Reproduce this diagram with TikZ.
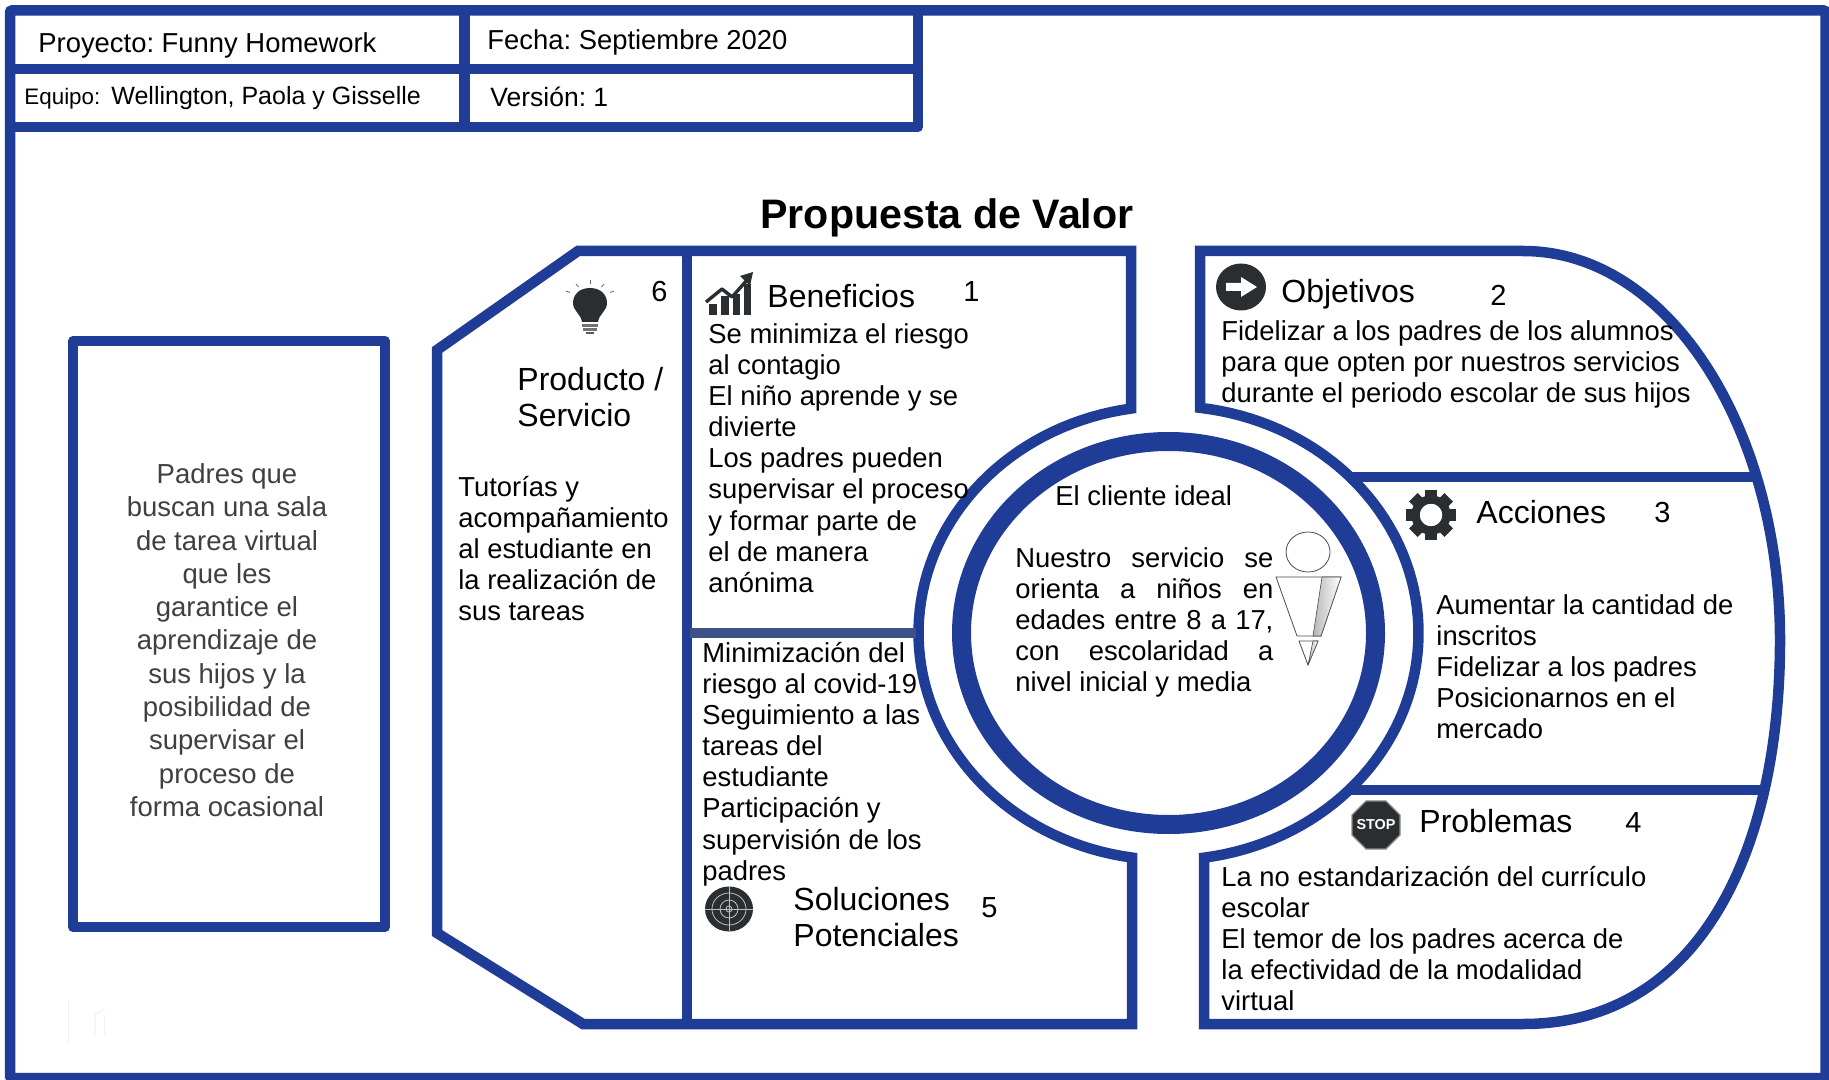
\documentclass[tikz,border=0pt]{standalone}
\usepackage{fontspec}
\setmainfont{Liberation Sans}
\usetikzlibrary{shapes.geometric}
\definecolor{bandblue}{HTML}{1F3D97}
\definecolor{dividerblue}{HTML}{3F5189}
\definecolor{icondark}{HTML}{2B2E31}
\definecolor{softgray}{HTML}{404040}
\newcommand\firststrut{\rule{0pt}{11pt}}
\frenchspacing
\tikzset{
  band/.style={draw=bandblue,line width=5.25pt,line join=miter},
  body/.style={inner sep=0pt,anchor=north west,align=left,text=black,font=\fontsize{13.7}{15.55}\selectfont},
  label/.style={inner sep=0pt,anchor=base west,text=black,font=\fontsize{13.7}{15.55}\selectfont},
  heading/.style={inner sep=0pt,anchor=base west,align=left,text=black,font=\fontsize{16}{18}\selectfont},
  numeral/.style={inner sep=0pt,anchor=base west,text=black,font=\fontsize{14.5}{16}\selectfont},
  person/.style={draw=black!70,line width=0.4pt,fill=white},
  ghost/.style={draw=black!6,line width=0.5pt}
}
\begin{document}
\begin{tikzpicture}[x=0.5pt,y=-0.5pt]
\useasboundingbox (0,0) rectangle (1829,1080);
\fill[white] (0,0) rectangle (1829,1080);
\clip (0,0) rectangle (1829,1080);
% outer frame and header grid
\draw[band,rounded corners=1pt] (10,10.5) rectangle (1825.5,1078);
\draw[band,line join=round] (10,127) -- (918,127) -- (918,10);
\draw[band] (10,69) -- (918,69);
\draw[band] (464.5,10) -- (464.5,127);
% left box
\draw[band,line join=round] (73,341) rectangle (385,927);
% left group: product + benefits + solutions
\draw[band] plot[variable=\t,domain=98.4:261.4,samples=70] ({1168.5+250*cos(\t)},{633+227*sin(\t)})
  -- (1131.1,251) -- (578,251) -- (437,350) -- (437,933) -- (583,1024) -- (1132,1024) -- cycle;
\draw[band] (687,251) -- (687,1024);
\draw[draw=dividerblue,line width=5pt] (690,633) -- (916,633);
% right group: objectives + actions + problems
\draw[band] plot[variable=\t,domain=81.84:-82.76,samples=70] ({1168.5+250*cos(\t)},{633+227*sin(\t)})
  -- (1200,251) -- (1523,251)
  .. controls (1670,251) and (1780,430) .. (1780,640)
  .. controls (1780,850) and (1700,1024) .. (1523,1024)
  -- (1204,1024) -- cycle;
\draw[band] (1351,477) -- (1755,477);
\draw[band] (1349,790) -- (1765,790);
% inner ring
\draw[draw=bandblue,line width=9.5pt] (1168.5,633) ellipse [x radius=207,y radius=191.5];
% bulb icon
\fill[icondark] (590,288) .. controls (578,288) and (573,296) .. (573,303) .. controls (573,311) and (581,314) .. (582,322)
  -- (598,322) .. controls (599,314) and (607,311) .. (607,303) .. controls (607,296) and (602,288) .. (590,288) -- cycle;
\fill[black!55] (582,324) rectangle (598,327);
\fill[black!55] (583,328) rectangle (597,331);
\fill[black!65] (586,332) rectangle (594,334);
\foreach \ax/\ay/\bx/\by in {590/280/590/284, 576/284/578.5/287, 604/284/601.5/287, 566/291/570/292.5, 614/291/610/292.5}
  \draw[black!60,line width=0.4pt] (\ax,\ay) -- (\bx,\by);
% chart icon
\foreach \xa/\xb/\yt in {709/717/304, 721/729/296, 733/740/294, 744/751/284}
  \fill[icondark] (\xa,\yt) rectangle (\xb,315);
\draw[icondark,line width=1.7pt,line join=round] (706,302) -- (722,289) -- (732,297) -- (748,279);
\fill[icondark] (740,276) -- (753,272) -- (750,286) -- cycle;
% target icon
\fill[icondark] (729,909) ellipse [x radius=24,y radius=22.5];
\draw[black!25,line width=0.4pt] (729,909) ellipse [x radius=17,y radius=16];
\draw[black!25,line width=0.4pt] (729,909) ellipse [x radius=9,y radius=9];
\draw[black!25,line width=0.4pt] (729,909) ellipse [x radius=3,y radius=3];
\draw[black!25,line width=0.4pt] (705,909) -- (753,909);
\draw[black!25,line width=0.4pt] (729,887) -- (729,931);
% arrow icon
\fill[icondark] (1241,287) ellipse [x radius=25,y radius=23.5];
\fill[white] (1226,283) -- (1241,283) -- (1241,277) -- (1257,287) -- (1241,297) -- (1241,291) -- (1226,291) -- cycle;
% gear icon
\foreach \a in {0,45,...,315}
  \fill[icondark,shift={(1431,515)},rotate=\a] (-6,-25) rectangle (6,-16);
\draw[icondark,line width=4.2pt] (1431,515) circle [radius=15.5];
% stop icon
\node[regular polygon,regular polygon sides=8,minimum size=26pt,inner sep=0pt,fill=icondark,draw=black!45,line width=0.6pt] (stopsign) at (1376,825) {};
\node[inner sep=0pt,text=white,font=\fontsize{7.2}{8}\selectfont\bfseries] (stoptext) at (stopsign.center) {STOP};
% person figure
\draw[person] (1308,552) ellipse [x radius=22,y radius=20];
\draw[person] (1276,577) -- (1341,577) -- (1321,636) -- (1297,636) -- cycle;
\shade[left color=black!28,right color=white,draw=black!70,line width=0.3pt] (1322,577) -- (1341,577) -- (1321,636) -- (1313,636) -- cycle;
\draw[person] (1299,641) -- (1318,641) -- (1308,665) -- cycle;
\shade[left color=black!28,right color=white,draw=black!70,line width=0.3pt] (1313,641) -- (1318,641) -- (1308,665) -- cycle;
% faint marks
\draw[ghost] (68,1000) -- (68,1043);
\draw[ghost] (95,1035) -- (95,1015) -- (100,1012) -- (103,1008);
\draw[ghost] (104,1035) -- (104,1015);
% header texts
\node[label] (proyecto) at (38,53) {Proyecto: Funny Homework};
\node[label] (fecha) at (487,50) {Fecha: Septiembre 2020};
\node[label,font=\fontsize{11.2}{13}\selectfont] (equipo) at (24,104.5) {Equipo:};
\node[label,font=\fontsize{12.5}{15}\selectfont] (nombres) at (111,104.5) {Wellington, Paola y Gisselle};
\node[label,font=\fontsize{13.25}{15}\selectfont] (version) at (490,107) {Versión: 1};
% title
\node[inner sep=0pt,anchor=base west,font=\fontsize{20.6}{25}\selectfont\bfseries] (titulo) at (760,228.5) {Propuesta de Valor};
% left box text
\node[inner sep=0pt,anchor=north,align=center,text=softgray,font=\fontsize{13.75}{16.65}\selectfont] (clientes) at (227,461) {\firststrut Padres que\\buscan una sala\\de tarea virtual\\que les\\garantice el\\aprendizaje de\\sus hijos y la\\posibilidad de\\supervisar el\\proceso de\\forma ocasional};
% product
\node[numeral] (n6) at (651,302) {6};
\node[heading,anchor=north west] (producto) at (517,367) {\firststrut Producto /\\Servicio};
\node[body] (productotxt) at (458,474) {\firststrut Tutorías y\\acompañamiento\\al estudiante en\\la realización de\\sus tareas};
% benefits
\node[heading] (beneficios) at (767,307) {Beneficios};
\node[numeral] (n1) at (963,302) {1};
\node[body] (beneficiostxt) at (708,321) {\firststrut Se minimiza el riesgo\\al contagio\\El niño aprende y se\\divierte\\Los padres pueden\\supervisar el proceso\\y formar parte de\\el de manera\\anónima};
% solutions
\node[body] (solucionestxt) at (702,640) {\firststrut Minimización del\\riesgo al covid-19\\Seguimiento a las\\tareas del\\estudiante\\Participación y\\supervisión de los\\padres};
\node[heading,anchor=north west] (soluciones) at (793,887) {\firststrut Soluciones\\Potenciales};
\node[numeral] (n5) at (981,917) {5};
% client
\node[label] (cliente) at (1055,505) {El cliente ideal};
\node[body] (clientetxt) at (1015,545) {\firststrut\hbox to 129pt{Nuestro\hfil servicio\hfil se}\\\hbox to 129pt{orienta\hfil a\hfil niños\hfil en}\\\hbox to 129pt{edades\hfil entre\hfil 8\hfil a\hfil 17,}\\\hbox to 129pt{con\hfil escolaridad\hfil a}\\nivel inicial y media};
% objectives
\node[heading] (objetivos) at (1281,303) {Objetivos};
\node[numeral] (n2) at (1490,306) {2};
\node[body] (objetivostxt) at (1221,318) {\firststrut Fidelizar a los padres de los alumnos\\para que opten por nuestros servicios\\durante el periodo escolar de sus hijos};
% actions
\node[heading] (acciones) at (1476,523) {Acciones};
\node[numeral] (n3) at (1654,522) {3};
\node[body] (accionestxt) at (1436,592) {\firststrut Aumentar la cantidad de\\inscritos\\Fidelizar a los padres\\Posicionarnos en el\\mercado};
% problems
\node[heading] (problemas) at (1419,832) {Problemas};
\node[numeral] (n4) at (1625,832) {4};
\node[body] (problemastxt) at (1221,864) {\firststrut La no estandarización del currículo\\escolar\\El temor de los padres acerca de\\la efectividad de la modalidad\\virtual};
\end{tikzpicture}
\end{document}
